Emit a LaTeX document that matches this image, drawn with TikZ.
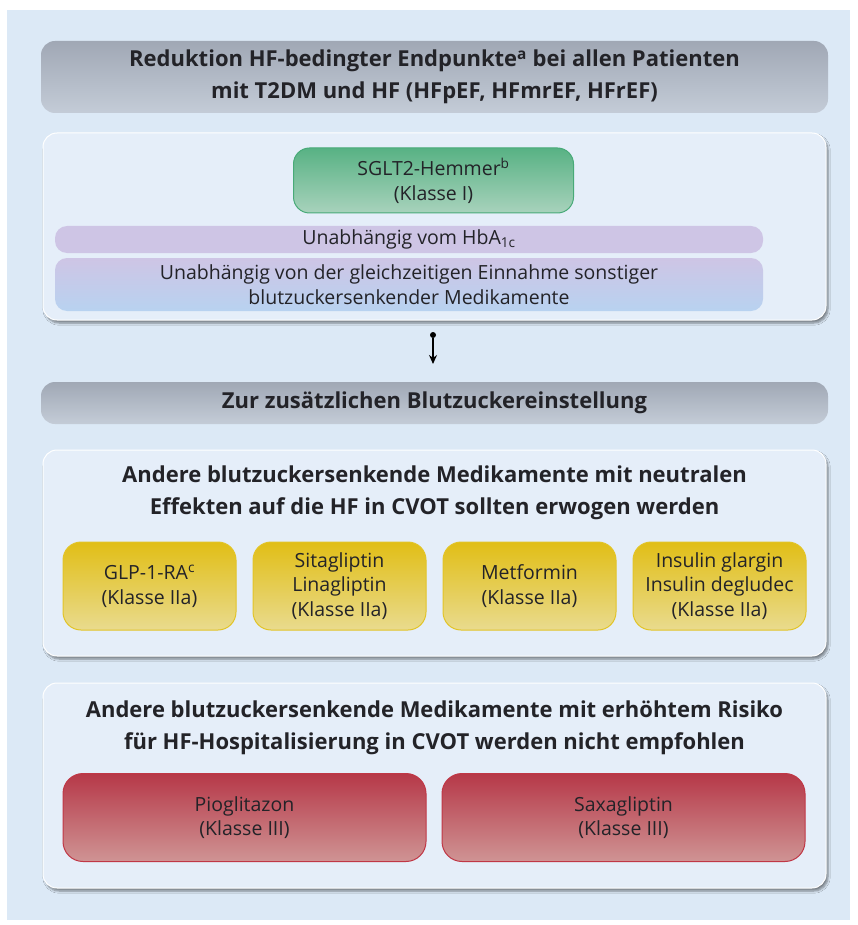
\documentclass[tikz,border=0pt]{standalone}
\usepackage{fontspec}
\setmainfont{Open Sans}
\usepackage{xcolor}
\definecolor{esbg}{RGB}{220,233,246}
\definecolor{espanel}{RGB}{229,238,249}
\definecolor{estext}{RGB}{35,35,40}
\definecolor{eshdtop}{RGB}{160,168,181}
\definecolor{eshdbot}{RGB}{196,204,215}
\definecolor{esgreentop}{RGB}{88,178,132}
\definecolor{esgreenbot}{RGB}{168,210,188}
\definecolor{esgreen}{RGB}{72,170,120}
\definecolor{eslilac}{RGB}{206,197,229}
\definecolor{esbluebot}{RGB}{184,210,240}
\definecolor{esyeltop}{RGB}{225,190,22}
\definecolor{esyelbot}{RGB}{233,219,142}
\definecolor{esyel}{RGB}{226,196,40}
\definecolor{esredtop}{RGB}{182,56,72}
\definecolor{esredbot}{RGB}{207,148,148}
\definecolor{esred}{RGB}{192,55,70}
\usetikzlibrary{positioning,arrows.meta,shadows.blur}
\newcommand{\headfont}{\bfseries\fontsize{22}{32}\selectfont}
\newcommand{\boxfont}{\fontsize{19.5}{24.5}\selectfont}
\tikzset{
  header/.style  ={rectangle,rounded corners=14pt,top color=eshdtop,bottom color=eshdbot,
                   align=center,minimum width=787pt,inner sep=0pt,text=estext,font=\headfont},
  panel/.style   ={rectangle,rounded corners=14pt,fill=espanel,draw=white,line width=1pt,
                   minimum width=783pt,inner sep=0pt,
                   blur shadow={shadow xshift=2pt,shadow yshift=-3pt,shadow blur steps=6,shadow opacity=45}},
  paneltitle/.style={align=center,inner sep=0pt,text=estext,font=\headfont},
  drug/.style    ={rectangle,rounded corners=16pt,top color=esgreentop,bottom color=esgreenbot,
                   draw=esgreen,line width=1pt,align=center,inner sep=0pt,text=estext,font=\boxfont},
  bar/.style     ={rectangle,rounded corners=12pt,align=center,inner sep=0pt,minimum width=708pt,
                   text=estext,font=\boxfont},
  neutral/.style ={rectangle,rounded corners=18pt,top color=esyeltop,bottom color=esyelbot,
                   draw=esyel,line width=1pt,align=center,inner sep=0pt,minimum width=173pt,
                   minimum height=88pt,text=estext,font=\boxfont},
  risk/.style    ={rectangle,rounded corners=20pt,top color=esredtop,bottom color=esredbot,
                   draw=esred,line width=1pt,align=center,inner sep=0pt,minimum width=363pt,
                   minimum height=88pt,text=estext,font=\boxfont},
  flow/.style    ={-{Stealth[length=9pt,width=8pt]},line width=1.4pt,draw=black},
}
\begin{document}
\begin{tikzpicture}[x=1pt,y=-1pt,node distance=16pt and 16pt]
  \fill[white] (0,0) rectangle (857,925);
  \fill[esbg] (7,10) rectangle (850,920);
  \useasboundingbox (0,0) rectangle (857,925);

  \node[header,minimum height=72pt] (goal) at (434.5,77)
    {\raisebox{-2.5pt}{\parbox{700pt}{\centering Reduktion HF-bedingter Endpunkte\textsuperscript{a} bei allen Patienten\\mit T2DM und HF (HFpEF, HFmrEF, HFrEF)}}};

  \node[panel,minimum height=187pt] (sglt) at (434.5,226.5) {};
  \node[drug,minimum width=280pt,minimum height=65pt] (hemmer) at (433.5,180.5)
    {SGLT2-Hemmer\textsuperscript{b}\\(Klasse I)};
  \node[bar,fill=eslilac,minimum height=27pt] (hba) at (409,239.5)
    {Unabhängig vom HbA\textsubscript{1c}};
  \node[bar,top color=eslilac,bottom color=esbluebot,minimum height=53pt] (comed) at (409,284.5)
    {Unabhängig von der gleichzeitigen Einnahme sonstiger\\blutzuckersenkender Medikamente};

  \node[circle,fill=black,inner sep=0pt,minimum size=6pt] (dot) at (433,335) {};
  \coordinate (tip) at (433,364);
  \draw[flow] (dot) -- (tip);

  \node[header,minimum height=42pt] (extra) at (434.5,403)
    {Zur zusätzlichen Blutzuckereinstellung};

  \node[panel,minimum height=206pt] (neutralpanel) at (434.5,553) {};
  \node[paneltitle] (neutraltitle) at (434.5,492.5)
    {Andere blutzuckersenkende Medikamente mit neutralen\\Effekten auf die HF in CVOT sollten erwogen werden};
  \node[neutral] (glp) at (149.5,586) {GLP-1-RA\textsuperscript{c}\\(Klasse IIa)};
  \node[neutral,right=of glp] (dpp) {Sitagliptin\\Linagliptin\\(Klasse IIa)};
  \node[neutral,right=of dpp] (met) {Metformin\\(Klasse IIa)};
  \node[neutral,right=of met] (ins) {Insulin glargin\\Insulin degludec\\(Klasse IIa)};

  \node[panel,minimum height=205pt] (riskpanel) at (434.5,785.5) {};
  \node[paneltitle] (risktitle) at (434.5,727.5)
    {Andere blutzuckersenkende Medikamente mit erhöhtem Risiko\\für HF-Hospitalisierung in CVOT werden nicht empfohlen};
  \node[risk] (pio) at (244.5,817.5) {Pioglitazon\\(Klasse III)};
  \node[risk,right=15pt of pio] (saxa) {Saxagliptin\\(Klasse III)};
\end{tikzpicture}
\end{document}
